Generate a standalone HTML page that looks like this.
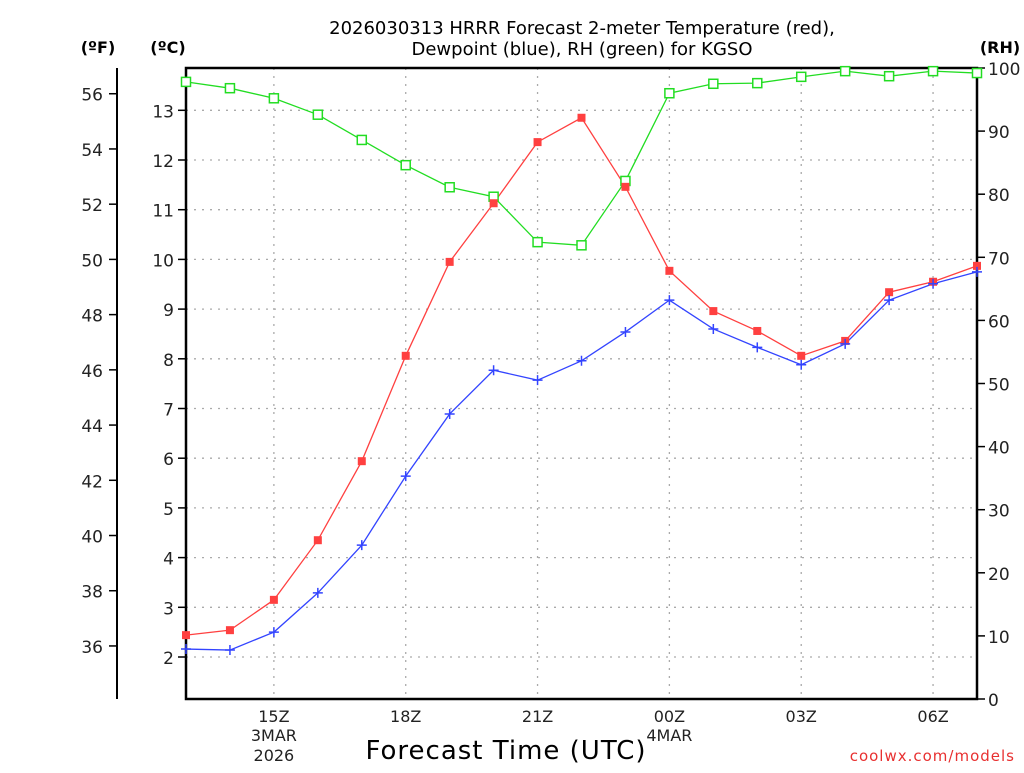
<!DOCTYPE html>
<html><head><meta charset="utf-8"><style>
body{margin:0;background:#fff}
svg text{font-family:"DejaVu Sans","Liberation Sans",sans-serif}
</style></head><body>
<svg id="chart" width="1024" height="768" xmlns="http://www.w3.org/2000/svg">
<g id="grid"></g>
<g id="axes"></g>
<g id="series"></g>
<text x="582" y="34" text-anchor="middle" font-size="18" fill="#000">2026030313 HRRR Forecast 2-meter Temperature (red),</text>
<text x="582" y="55" text-anchor="middle" font-size="18" fill="#000">Dewpoint (blue), RH (green) for KGSO</text>
<text x="98" y="53" text-anchor="middle" font-size="16" font-weight="bold">(ºF)</text>
<text x="168" y="53" text-anchor="middle" font-size="16" font-weight="bold">(ºC)</text>
<text x="1000" y="53" text-anchor="middle" font-size="16" font-weight="bold">(RH)</text>
<text x="506" y="759" text-anchor="middle" font-size="26" letter-spacing="1">Forecast Time (UTC)</text>
<text x="1015" y="761" text-anchor="end" font-size="15" fill="#e83030" letter-spacing="1">coolwx.com/models</text>
</svg>
<script>
const hours=[13,14,15,16,17,18,19,20,21,22,23,24,25,26,27,28,29,30,31];
const tempC=[2.44,2.54,3.15,4.35,5.94,8.06,9.95,11.13,12.36,12.85,11.46,9.77,8.96,8.56,8.06,8.36,9.34,9.55,9.87];
const dewC=[2.16,2.14,2.50,3.29,4.25,5.64,6.89,7.77,7.57,7.96,8.54,9.18,8.60,8.23,7.88,8.30,9.18,9.51,9.75];
const rh=[97.8,96.8,95.2,92.6,88.6,84.6,81.1,79.6,72.4,71.9,82.1,96.0,97.5,97.6,98.6,99.5,98.7,99.5,99.2];
const cTicks=[2,3,4,5,6,7,8,9,10,11,12,13];
const fTicks=[36,38,40,42,44,46,48,50,52,54,56];
const rhTicks=[0,10,20,30,40,50,60,70,80,90,100];
const xTickHours=[15,18,21,24,27,30];
const xTickLabels=["15Z","18Z","21Z","00Z","03Z","06Z"];

const L=186,R=977,T=68,B=699;
const xS=h=>L+(h-13)*(R-L)/18;
const yC=c=>657-(c-2)*49.7;
const yF=f=>yC((f-32)/1.8);
const yRH=v=>B-v*(B-T)/100;
const NS="http://www.w3.org/2000/svg";
function mk(tag,attrs,parent,txt){const e=document.createElementNS(NS,tag);for(const k in attrs)e.setAttribute(k,attrs[k]);if(txt!==undefined)e.textContent=txt;parent.appendChild(e);return e;}
const grid=document.getElementById('grid'),axes=document.getElementById('axes'),ser=document.getElementById('series');
cTicks.forEach(c=>{const y=yC(c);
 const g=mk('line',{x1:L,x2:R,y1:y,y2:y,stroke:'#aaa','stroke-dasharray':'2,6','stroke-width':1.3},grid);
 
 const t=mk('line',{x1:L-8,x2:L,y1:y,y2:y,stroke:'#000','stroke-width':1.5},axes);
 
 const tx=mk('text',{x:L-12,y:y+7,'text-anchor':'end','font-size':17,fill:'#222'},axes,String(c));
 });
xTickHours.forEach((h,i)=>{const x=xS(h);
 const g=mk('line',{x1:x,x2:x,y1:T,y2:B,stroke:'#aaa','stroke-dasharray':'2,6','stroke-width':1.3},grid);
 
 const tx=mk('text',{x:x,y:722,'text-anchor':'middle','font-size':16,fill:'#222'},axes,xTickLabels[i]);
 });
[["3MAR",15,741],["2026",15,761],["4MAR",24,741]].forEach(d=>{
 const tx=mk('text',{x:xS(d[1]),y:d[2],'text-anchor':'middle','font-size':16,fill:'#222'},axes,d[0]);
 });
// frame
const fr=mk('rect',{x:L,y:T,width:R-L,height:B-T,fill:'none',stroke:'#000','stroke-width':2.5},axes);

// F axis
const fa=mk('line',{x1:117,x2:117,y1:68,y2:699,stroke:'#000','stroke-width':2},axes);

fTicks.forEach(f=>{const y=yF(f);
 const t=mk('line',{x1:109,x2:117,y1:y,y2:y,stroke:'#000','stroke-width':1.5},axes);
 
 const tx=mk('text',{x:103,y:y+7,'text-anchor':'end','font-size':17,fill:'#222'},axes,String(f));
 });
rhTicks.forEach(v=>{const y=yRH(v);
 const t=mk('line',{x1:R,x2:R+8,y1:y,y2:y,stroke:'#000','stroke-width':1.5},axes);
 
 const tx=mk('text',{x:R+11,y:y+7,'text-anchor':'start','font-size':17,fill:'#222'},axes,String(v));
 });
function line(vals,yf,col,name){
 const pts=vals.map((v,i)=>xS(hours[i])+','+yf(v)).join(' ');
 const p=mk('polyline',{points:pts,fill:'none',stroke:col,'stroke-width':1.3},ser);
 }
line(rh,yRH,'#22dd22','rh');
line(tempC,yC,'#ff4040','temperature');
line(dewC,yC,'#3344ff','dewpoint');
rh.forEach((v,i)=>{const x=xS(hours[i]),y=yRH(v);
 const m=mk('rect',{x:x-4.5,y:y-4.5,width:9,height:9,fill:'#fff',stroke:'#22dd22','stroke-width':1.5},ser);
 });
tempC.forEach((v,i)=>{const x=xS(hours[i]),y=yC(v);
 const m=mk('rect',{x:x-4,y:y-4,width:8,height:8,fill:'#ff4040'},ser);
 });
dewC.forEach((v,i)=>{const x=xS(hours[i]),y=yC(v);
 const m=mk('path',{d:`M${x-5},${y}H${x+5}M${x},${y-5}V${y+5}`,stroke:'#3344ff','stroke-width':1.5},ser);
 });
</script>
</body></html>
